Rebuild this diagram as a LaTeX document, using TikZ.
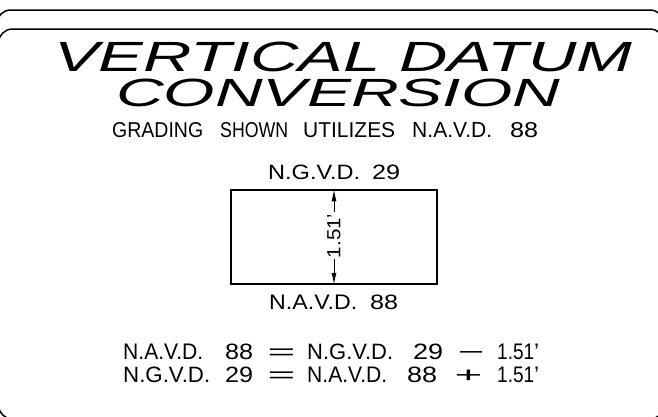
\documentclass[tikz,border=0pt]{standalone}
\usepackage{fontspec}
\setmainfont{Liberation Sans}
\usetikzlibrary{arrows.meta}
\begin{document}
\begin{tikzpicture}[x=1pt,y=-1pt,
  frame/.style={line width=1.5pt, rounded corners=14pt},
  txt/.style={inner sep=0pt, anchor=base west},
  eq/.style={txt, font=\fontsize{22.5}{23}\selectfont},
  sym/.style={inner sep=0pt, anchor=base, font=\fontsize{21.6}{22}\selectfont},
  dimarrow/.style={line width=1pt, -{Latex[length=12pt,width=5pt]}}]
\useasboundingbox (0,0) rectangle (658,416);
\begin{scope}
  \clip (0,0) rectangle (658,416);
  \draw[frame] (-3.3,10) rectangle (664,460);
  \draw[frame] (-1.5,29) rectangle (664,419);
\end{scope}
% title
\node[txt] (t1) at (54,71.5) {\resizebox{578pt}{29.5pt}{\itshape VERTICAL DATUM}};
\node[txt] (t2) at (116,106) {\resizebox{444pt}{27.5pt}{\itshape CONVERSION}};
% subtitle
\node[txt] (g1) at (112,137) {\resizebox{91pt}{15pt}{GRADING}};
\node[txt] (g2) at (220,137) {\resizebox{68pt}{15pt}{SHOWN}};
\node[txt] (g3) at (303,137) {\resizebox{92pt}{15pt}{UTILIZES}};
\node[txt] (g4) at (412,137) {\resizebox{80pt}{15pt}{N.A.V.D.}};
\node[txt] (g5) at (510,137) {\resizebox{28pt}{15pt}{88}};
% box with dimension
\node[draw, line width=1.5pt, minimum width=206pt, minimum height=94pt, inner sep=0pt] (box) at (334,237) {};
\node[txt] (la) at (268,179) {\resizebox{92pt}{14.5pt}{N.G.V.D.}};
\node[txt] (lb) at (372,179) {\resizebox{28pt}{14.5pt}{29}};
\node[txt] (lc) at (269,309) {\resizebox{88pt}{14.5pt}{N.A.V.D.}};
\node[txt] (ld) at (370,309) {\resizebox{28pt}{14.5pt}{88}};
\node[inner sep=0pt, rotate=90, font=\fontsize{19}{20}\selectfont] (dim) at (334,236) {\resizebox{40pt}{\height}{1.51}’};
\draw[dimarrow] ([yshift=2pt]dim.east) -- (box.north);
\draw[dimarrow] ([yshift=-1pt]dim.west) -- (box.south);
% equations
\node[txt] (a1) at (123,359.5) {\resizebox{80pt}{15.5pt}{N.A.V.D.}};
\node[txt] (a2) at (225,359.5) {\resizebox{28pt}{15.5pt}{88}};
\node[sym] (a3) at (281.5,359.5) {\scalebox{2.2}[1]{=}};
\node[txt] (a4) at (307,359.5) {\resizebox{86pt}{15.5pt}{N.G.V.D.}};
\node[txt] (a5) at (413,359.5) {\resizebox{30pt}{15.5pt}{29}};
\node[sym] (a6) at (471,359.5) {\scalebox{2.1}[1]{−}};
\node[eq] (a7) at (497,359.5) {\resizebox{37pt}{\height}{1.51}’};
\node[txt] (b1) at (123,382) {\resizebox{87pt}{15.5pt}{N.G.V.D.}};
\node[txt] (b2) at (225,382) {\resizebox{28pt}{15.5pt}{29}};
\node[sym] (b3) at (281.5,382) {\scalebox{2.2}[1]{=}};
\node[txt] (b4) at (307,382) {\resizebox{80pt}{15.5pt}{N.A.V.D.}};
\node[txt] (b5) at (407,382) {\resizebox{30pt}{15.5pt}{88}};
\node[sym] (b6) at (468.5,382) {\scalebox{2.2}[1]{+}};
\node[eq] (b7) at (497,382) {\resizebox{37pt}{\height}{1.51}’};
\end{tikzpicture}
\end{document}
